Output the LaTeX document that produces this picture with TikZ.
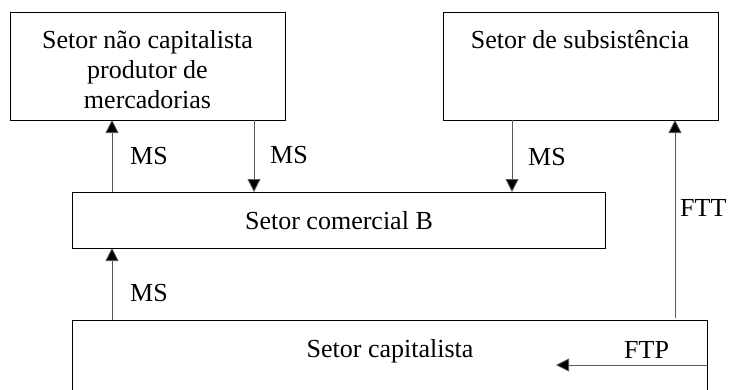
\documentclass[tikz,border=0pt]{standalone}
\usepackage{fontspec}
\setmainfont{Liberation Serif}
\usetikzlibrary{arrows.meta}
\begin{document}
\begin{tikzpicture}[x=1pt,y=-1pt,
  box/.style={draw=black,line width=0.9pt},
  lbl/.style={font=\fontsize{26}{30}\selectfont,inner sep=0pt},
  flow/.style={draw=black!65,line width=0.8pt,-{Triangle[length=13pt,width=13pt,fill=black]}}]
\useasboundingbox (0,0) rectangle (731,389);
% boxes
\node[box,minimum width=275pt,minimum height=108pt,anchor=north west] (nc) at (10,12) {};
\node[lbl,align=center] at (147.5,70) {Setor não capitalista\\produtor de\\mercadorias};
\node[box,minimum width=275pt,minimum height=108pt,anchor=north west] (sub) at (443,12) {};
\node[lbl] at (580,40) {Setor de subsistência};
\node[box,minimum width=533pt,minimum height=56pt,anchor=north west,lbl] (com) at (72,192) {Setor comercial B};
\draw[box] (72,395) -- (72,320) -- (707,320) -- (707,395);
\coordinate (capR) at (707,365);
\node[lbl] (cap) at (390,351) {Setor capitalista};
% arrows
\draw[flow] (112,192) -- (112,120);
\node[lbl,anchor=west] at (130,156) {MS};
\draw[flow] (254,120) -- (254,192);
\node[lbl,anchor=west] at (270,155) {MS};
\draw[flow] (512,120) -- (512,192);
\node[lbl,anchor=west] at (528,157) {MS};
\draw[flow] (675,318) -- (675,120);
\node[lbl,anchor=west] at (680,208) {FTT};
\draw[flow] (112,320) -- (112,248);
\node[lbl,anchor=west] at (130,293) {MS};
\draw[flow] (capR) -- (556,365);
\node[lbl,anchor=west] at (624,350) {FTP};
\end{tikzpicture}
\end{document}
